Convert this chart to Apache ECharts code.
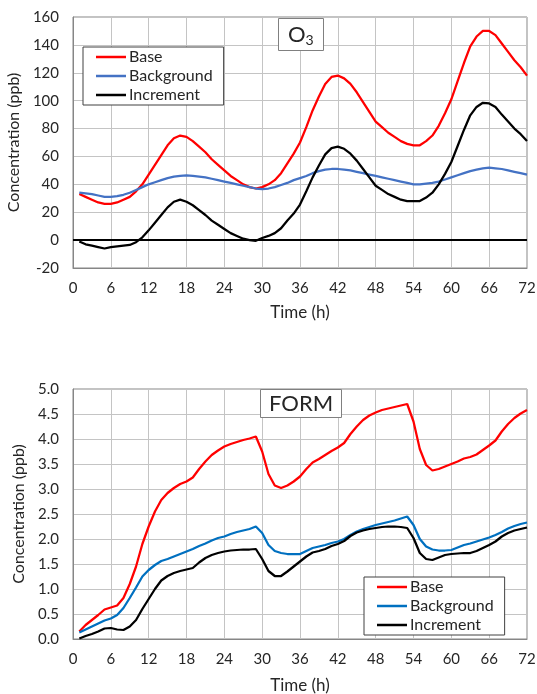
<!DOCTYPE html>
<html>
<head>
<meta charset="utf-8">
<script src="https://cdn.jsdelivr.net/npm/echarts@6/dist/echarts.min.js"></script>
<style>
  html, body { margin: 0; padding: 0; background: #fff; }
  #o3 { width: 537px; height: 330px; }
  #form { width: 537px; height: 364px; }
</style>
</head>
<body>
<div id="o3"></div>
<div id="form"></div>
<script>
// hours 1..72
var hours = [];
for (var i = 1; i <= 72; i++) hours.push(i);

// O3 (ppb)
var o3Base = [33, 31, 29, 27, 26, 26, 27, 29, 31, 35, 40, 47, 54, 61, 68, 73, 75, 74, 71, 67,
  63, 58, 54, 50, 46, 43, 40, 38, 37, 38, 40, 43, 48, 55, 62, 70, 81, 93, 103, 112,
  117, 118, 116, 112, 106, 99, 92, 85, 81, 77, 74, 71, 69, 68, 68, 71, 75, 82, 91, 101,
  114, 127, 139, 146, 150, 150, 147, 141, 135, 129, 124, 118];
var o3Background = [34, 33.5, 33, 32, 31, 31, 31.5, 32.5, 34, 36, 38, 40, 41.5, 43, 44.5, 45.5, 46, 46.5, 46, 45.5,
  45, 44, 43, 42, 41, 40, 39, 38, 37, 36.5, 37, 38, 39.5, 41, 43, 44.5, 46, 48, 49.5, 50.5,
  51, 51, 50.5, 50, 49, 48, 47, 46, 45, 44, 43, 42, 41, 40, 40, 40.5, 41, 42, 43.5, 45,
  46.5, 48, 49.5, 50.5, 51.5, 52, 51.5, 51, 50, 49, 48, 47];
var o3Increment = [-1, -3, -4, -5, -6, -5, -4.5, -4, -3.5, -1.5, 2, 7, 12.5, 18, 23.5, 27.5, 29, 27.5, 25, 21.5,
  18, 14, 11, 8, 5, 3, 1, 0, -0.5, 1.5, 3, 5, 8.5, 14, 19, 25.5, 35, 45, 53.5, 61.5,
  66, 67, 65.5, 62, 57, 51, 45, 39, 36, 33, 31, 29, 28, 28, 28, 30.5, 34, 40, 47.5, 56,
  67.5, 79, 89.5, 95.5, 98.5, 98, 95.5, 90, 85, 80, 76, 71];

// FORM (ppb)
var formBase = [0.15, 0.28, 0.38, 0.48, 0.59, 0.63, 0.67, 0.82, 1.1, 1.45, 1.9, 2.25, 2.55, 2.78, 2.92, 3.02, 3.1, 3.15, 3.23, 3.4,
  3.55, 3.68, 3.77, 3.85, 3.9, 3.94, 3.98, 4.01, 4.05, 3.75, 3.3, 3.07, 3.02, 3.07, 3.15, 3.25, 3.4, 3.53, 3.6, 3.68,
  3.76, 3.83, 3.92, 4.1, 4.25, 4.38, 4.47, 4.53, 4.58, 4.61, 4.64, 4.67, 4.7, 4.35, 3.8, 3.48, 3.37, 3.4, 3.45, 3.5,
  3.55, 3.61, 3.64, 3.69, 3.78, 3.87, 3.97, 4.15, 4.3, 4.42, 4.51, 4.58];
var formBackground = [0.13, 0.19, 0.25, 0.31, 0.37, 0.41, 0.48, 0.62, 0.82, 1.03, 1.25, 1.38, 1.48, 1.56, 1.6, 1.65, 1.7, 1.75, 1.8, 1.86,
  1.91, 1.97, 2.02, 2.05, 2.1, 2.14, 2.17, 2.2, 2.25, 2.12, 1.88, 1.76, 1.72, 1.7, 1.7, 1.7, 1.76, 1.82, 1.85, 1.88,
  1.92, 1.95, 2.0, 2.08, 2.15, 2.2, 2.24, 2.28, 2.31, 2.34, 2.37, 2.41, 2.45, 2.28, 2.0, 1.85, 1.79, 1.77, 1.77, 1.78,
  1.83, 1.88, 1.91, 1.95, 1.99, 2.03, 2.08, 2.14, 2.21, 2.26, 2.3, 2.33];
var formIncrement = [0.01, 0.06, 0.1, 0.15, 0.21, 0.22, 0.19, 0.18, 0.25, 0.38, 0.6, 0.8, 1.0, 1.17, 1.26, 1.32, 1.36, 1.39, 1.42, 1.53,
  1.62, 1.68, 1.72, 1.75, 1.77, 1.78, 1.79, 1.79, 1.8, 1.6, 1.36, 1.26, 1.26, 1.35, 1.45, 1.55, 1.65, 1.73, 1.76, 1.8,
  1.86, 1.9, 1.96, 2.06, 2.13, 2.17, 2.2, 2.22, 2.24, 2.25, 2.25, 2.24, 2.22, 2.02, 1.72, 1.6, 1.58, 1.63, 1.68, 1.7,
  1.71, 1.72, 1.72, 1.76, 1.82, 1.88, 1.95, 2.05, 2.12, 2.17, 2.2, 2.23];

var FONT = "Lato";
var TXT = "#262626";

function pairs(vals) {
  return hours.map(function (h, i) { return [h, vals[i]]; });
}

function lineSeries(name, vals, color) {
  return {
    name: name,
    type: "line",
    data: pairs(vals),
    symbol: "none",
    lineStyle: { color: color, width: 2.25 },
    itemStyle: { color: color },
    z: 3,
  };
}

function xAxisCfg(nameGap) {
  return {
    type: "value",
    min: 0,
    max: 72,
    interval: 6,
    name: "Time (h)",
    nameLocation: "middle",
    nameGap: nameGap,
    nameTextStyle: { fontFamily: FONT, fontSize: 17, color: TXT },
    axisLine: { onZero: false, lineStyle: { color: "#868686" } },
    axisTick: { show: false },
    axisLabel: { fontFamily: FONT, fontSize: 15, color: TXT, margin: 13 },
    splitLine: { lineStyle: { color: "#c4c4c4" } },
  };
}

function yAxisCfg(min, max, step, fmt) {
  return {
    type: "value",
    min: min,
    max: max,
    interval: step,
    name: "Concentration (ppb)",
    nameLocation: "middle",
    nameGap: 45,
    nameTextStyle: { fontFamily: FONT, fontSize: 16, color: TXT },
    axisLine: { show: true, lineStyle: { color: "#868686" } },
    axisTick: { show: false },
    axisLabel: { fontFamily: FONT, fontSize: 15, color: TXT, margin: 14, formatter: fmt },
    splitLine: { lineStyle: { color: "#c4c4c4" } },
  };
}

function legendCfg(left, top) {
  return {
    orient: "vertical",
    left: left,
    top: top,
    icon: "rect",
    itemWidth: 30,
    itemHeight: 2.5,
    itemGap: 1,
    padding: [1, 11, 1, 13],
    borderColor: "#404040",
    borderWidth: 1,
    backgroundColor: "#fff",
    textStyle: { fontFamily: FONT, fontSize: 16, color: TXT, lineHeight: 18, padding: [0, 0, 0, -2] },
    data: ["Base", "Background", "Increment"],
  };
}

var chartO3 = echarts.init(document.getElementById("o3"), null, { renderer: "canvas" });
var optionO3 = {
  animation: false,
  title: {
    text: "{a|O}{b|3}",
    left: 278,
    top: 17,
    padding: [5, 10, 4, 10],
    borderColor: "#808080",
    borderWidth: 1,
    backgroundColor: "#fff",
    textStyle: {
      fontWeight: "normal",
      rich: {
        a: { fontFamily: FONT, fontSize: 22, fontWeight: "normal", color: TXT, lineHeight: 26 },
        b: { fontFamily: FONT, fontSize: 14, fontWeight: "normal", color: TXT, lineHeight: 26, padding: [10, 0, 0, 0] },
      },
    },
  },
  legend: legendCfg(83, 47),
  grid: {
    left: 73, top: 17, width: 454, height: 251,
    outerBoundsMode: "none", containLabel: false,
    show: true, borderColor: "#868686", borderWidth: 1,
  },
  xAxis: xAxisCfg(36),
  yAxis: yAxisCfg(-20, 160, 20),
  series: [
    lineSeries("Base", o3Base, "#ff0000"),
    lineSeries("Background", o3Background, "#4472c4"),
    Object.assign(lineSeries("Increment", o3Increment, "#000000"), {
      markLine: {
        silent: true,
        symbol: "none",
        label: { show: false },
        lineStyle: { color: "#000", width: 2, type: "solid" },
        data: [{ yAxis: 0 }],
      },
    }),
  ],
};
chartO3.setOption(optionO3);

var chartForm = echarts.init(document.getElementById("form"), null, { renderer: "canvas" });
var optionForm = {
  animation: false,
  title: {
    text: "FORM",
    left: 260,
    top: 59,
    padding: [4, 9, 3, 9],
    borderColor: "#808080",
    borderWidth: 1,
    backgroundColor: "#fff",
    textStyle: { fontFamily: FONT, fontSize: 22, fontWeight: "normal", color: TXT },
  },
  legend: legendCfg(364, 247),
  grid: {
    left: 73, top: 59, width: 454, height: 250,
    outerBoundsMode: "none", containLabel: false,
    show: true, borderColor: "#868686", borderWidth: 1,
  },
  xAxis: xAxisCfg(38),
  yAxis: yAxisCfg(0, 5, 0.5, function (v) { return v.toFixed(1); }),
  series: [
    lineSeries("Base", formBase, "#ff0000"),
    lineSeries("Background", formBackground, "#0070c0"),
    lineSeries("Increment", formIncrement, "#000000"),
  ],
};
chartForm.setOption(optionForm);

window.addEventListener("resize", function () {
  chartO3.resize();
  chartForm.resize();
});
</script>
</body>
</html>
